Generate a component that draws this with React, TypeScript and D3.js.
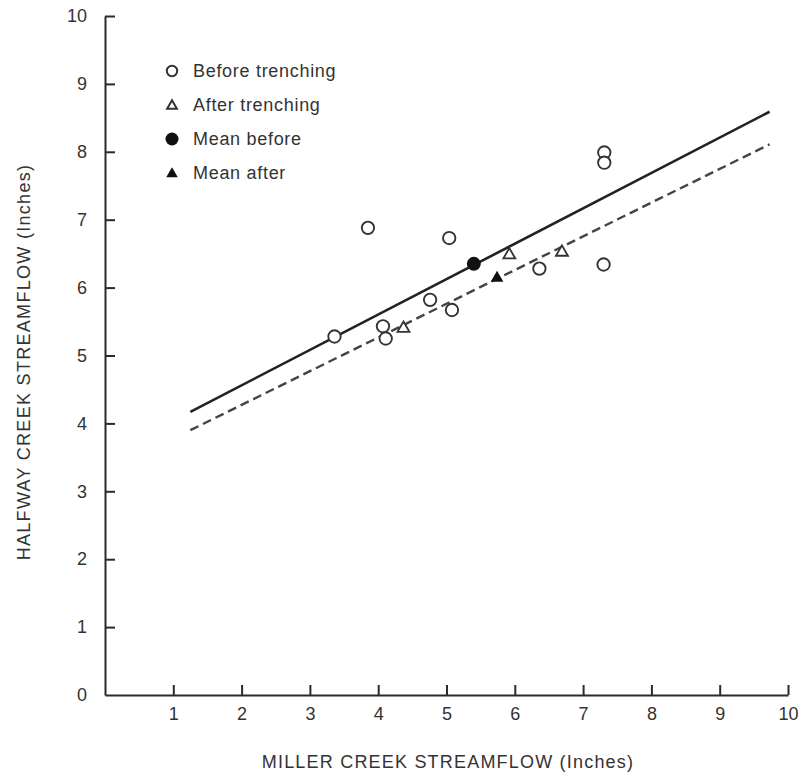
import * as d3 from "d3";
import { useEffect, useRef } from "react";

// Data
const beforeX = [3.36, 3.85, 4.07, 4.11, 4.76, 5.04, 5.08, 6.36, 7.31, 7.31, 7.3];
const beforeY = [5.28, 6.88, 5.43, 5.25, 5.82, 6.73, 5.67, 6.28, 7.99, 7.84, 6.34];
const afterX = [4.37, 5.92, 6.69];
const afterY = [5.4, 6.48, 6.52];
const meanBefore = [5.4, 6.35];
const meanAfter = [5.74, 6.14];
const fitX = [1.25, 9.73];
const fitBeforeY = [4.17, 8.59];
const fitAfterY = [3.9, 8.11];
const xTicks = [1, 2, 3, 4, 5, 6, 7, 8, 9, 10];
const yTicks = [0, 1, 2, 3, 4, 5, 6, 7, 8, 9, 10];
const legendLabels = ["Before trenching", "After trenching", "Mean before", "Mean after"];

const ink = "#2b2b2b";
const font = "'Liberation Sans', Arial, sans-serif";

const drawChart = (el: SVGSVGElement) => {
  const svg = d3.select(el);
  svg.selectAll("*").remove();

  const x = d3.scaleLinear().domain([0, 10]).range([105, 788]);
  const y = d3.scaleLinear().domain([0, 10]).range([695, 16]);

  // axes
  const xAxis = d3.axisBottom(x).tickValues(xTicks).tickSize(-10).tickSizeOuter(0).tickPadding(12);
  const gx = svg.append("g").attr("transform", `translate(0,${y(0)})`).call(xAxis);
  const yAxis = d3.axisLeft(y).tickValues(yTicks).tickSize(-10).tickSizeOuter(0).tickPadding(18);
  const gy = svg.append("g").attr("transform", `translate(${x(0)},0)`).call(yAxis);

  [gx, gy].forEach(g => {
    g.select(".domain").attr("stroke", ink).attr("stroke-width", 2);
    g.selectAll(".tick line").attr("stroke", ink).attr("stroke-width", 2);
    g.selectAll(".tick text")
      .attr("fill", "#333")
      .style("font-family", font)
      .style("font-size", "18px");
  });
  gy.selectAll(".tick").filter((d: any) => d === 0).select("line").remove();

  // fitted lines
  const line = d3.line<[number, number]>().x(d => x(d[0])).y(d => y(d[1]));
  svg.append("path")
    .attr("d", line(fitX.map((v, i) => [v, fitBeforeY[i]]) as [number, number][]))
    .attr("fill", "none").attr("stroke", "#222").attr("stroke-width", 2.6);
  svg.append("path")
    .attr("d", line(fitX.map((v, i) => [v, fitAfterY[i]]) as [number, number][]))
    .attr("fill", "none").attr("stroke", "#444").attr("stroke-width", 2.4)
    .attr("stroke-dasharray", "9,5");

  const tri = (size: number) => d3.symbol(d3.symbolTriangle, size)();

  // before trenching points
  svg.append("g").selectAll("circle")
    .data(beforeX.map((v, i) => [v, beforeY[i]]))
    .join("circle")
    .attr("cx", d => x(d[0])).attr("cy", d => y(d[1])).attr("r", 6.2)
    .attr("fill", "#fff").attr("stroke", "#333").attr("stroke-width", 1.9);

  // after trenching points
  svg.append("g").selectAll("path")
    .data(afterX.map((v, i) => [v, afterY[i]]))
    .join("path")
    .attr("d", tri(62))
    .attr("transform", d => `translate(${x(d[0])},${y(d[1])})`)
    .attr("fill", "#fff").attr("stroke", "#333").attr("stroke-width", 1.8);

  // means
  svg.append("circle")
    .attr("cx", x(meanBefore[0])).attr("cy", y(meanBefore[1])).attr("r", 7)
    .attr("fill", "#111");
  svg.append("path")
    .attr("d", tri(70))
    .attr("transform", `translate(${x(meanAfter[0])},${y(meanAfter[1])})`)
    .attr("fill", "#111");

  // legend
  const legend = svg.append("g").attr("transform", "translate(172,71)");
  legendLabels.forEach((label, i) => {
    const row = legend.append("g").attr("transform", `translate(0,${i * 34})`);
    if (i === 0) row.append("circle").attr("r", 5.2).attr("fill", "#fff").attr("stroke", "#333").attr("stroke-width", 2);
    if (i === 1) row.append("path").attr("d", tri(42)).attr("transform", "translate(0,1)")
      .attr("fill", "#fff").attr("stroke", "#333").attr("stroke-width", 2);
    if (i === 2) row.append("circle").attr("r", 6.5).attr("fill", "#111");
    if (i === 3) row.append("path").attr("d", tri(58)).attr("transform", "translate(0,1)").attr("fill", "#111");
    row.append("text")
      .attr("x", 21).attr("y", 6)
      .text(label)
      .attr("fill", "#333")
      .style("font-family", font)
      .style("font-size", "18px")
      .style("letter-spacing", "0.7px");
  });

  // axis titles
  svg.append("text")
    .attr("x", 448).attr("y", 768)
    .attr("text-anchor", "middle")
    .text("MILLER CREEK STREAMFLOW (Inches)")
    .attr("fill", "#333")
    .style("font-family", font).style("font-size", "18px").style("letter-spacing", "1.2px");

  svg.append("text")
    .attr("transform", "translate(30,362) rotate(-90)")
    .attr("text-anchor", "middle")
    .text("HALFWAY CREEK STREAMFLOW (Inches)")
    .attr("fill", "#333")
    .style("font-family", font).style("font-size", "18px").style("letter-spacing", "1.3px");
};

export default function App() {
  const ref = useRef<SVGSVGElement>(null);
  useEffect(() => {
    if (ref.current) drawChart(ref.current);
  }, []);
  return (
    <svg
      ref={ref}
      width={810}
      height={774}
      style={{ position: "absolute", left: 0, top: 0, background: "#fff" }}
    />
  );
}
